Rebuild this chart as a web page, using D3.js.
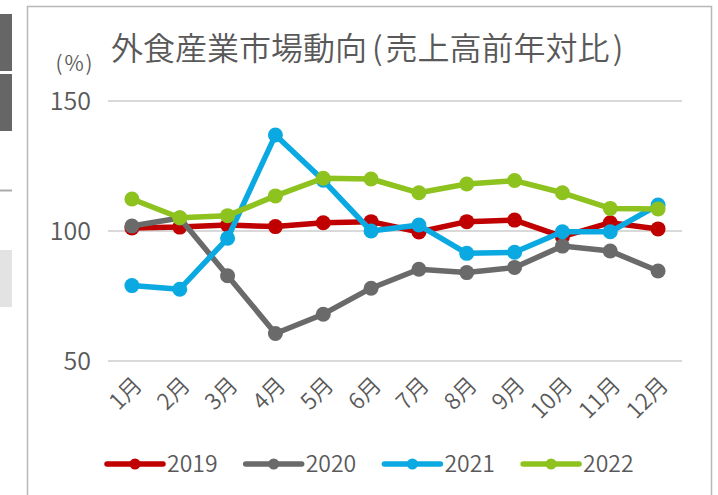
<!DOCTYPE html>
<html>
<head>
<meta charset="utf-8">
<script src="https://cdn.jsdelivr.net/npm/d3@7"></script>
<style>
  body { margin: 0; background: #fff; }
  svg text { font-family: "Noto Sans CJK JP", "Noto Sans", sans-serif; font-weight: 350; fill: #595959; }
</style>
</head>
<body>
<div id="chart"></div>
<script>
// data
var months = ["1月", "2月", "3月", "4月", "5月", "6月", "7月", "8月", "9月", "10月", "11月", "12月"];
var yTicks = [50, 100, 150];
var s2019 = [101.2, 101.5, 102.3, 101.7, 103.2, 103.6, 99.6, 103.6, 104.2, 97.8, 103.2, 100.8];
var s2020 = [101.9, 105.0, 82.8, 60.6, 68.0, 78.0, 85.3, 84.0, 86.0, 94.2, 92.3, 84.6];
var s2021 = [79.0, 77.6, 97.2, 136.9, 119.5, 100.0, 102.3, 91.4, 91.8, 99.7, 99.7, 110.0];
var s2022 = [112.3, 105.1, 105.9, 113.5, 120.3, 120.0, 114.7, 118.1, 119.4, 114.7, 108.7, 108.5];
var seriesNames = ["2019", "2020", "2021", "2022"];
var seriesColors = ["#c00000", "#6a6a6a", "#0ba9e2", "#8dc21f"];

var series = [s2019, s2020, s2021, s2022].map(function (v, i) {
  return { name: seriesNames[i], color: seriesColors[i], values: v };
});

var width = 718, height = 495;

var svg = d3.select("#chart")
  .append("svg")
  .attr("width", width)
  .attr("height", height);

// side decorations at the left edge
svg.append("rect").attr("x", 0).attr("y", 14).attr("width", 12).attr("height", 57).attr("fill", "#666");
svg.append("rect").attr("x", 0).attr("y", 74).attr("width", 12).attr("height", 57).attr("fill", "#666");
svg.append("line").attr("x1", 0).attr("x2", 12).attr("y1", 190.5).attr("y2", 190.5)
  .attr("stroke", "#aaa").attr("stroke-width", 2);
svg.append("rect").attr("x", 0).attr("y", 250).attr("width", 12).attr("height", 57).attr("fill", "#e3e3e3");

// chart frame
svg.append("rect")
  .attr("x", 27.5).attr("y", 6.5)
  .attr("width", 684).attr("height", 520)
  .attr("fill", "#fff")
  .attr("stroke", "#b8b8b8")
  .attr("stroke-width", 1.5);

var x = d3.scalePoint().domain(months).range([108, 682]).padding(0.5);
var y = d3.scaleLinear().domain([50, 150]).range([361, 101]);

// gridlines
svg.append("g")
  .selectAll("line")
  .data(yTicks)
  .enter()
  .append("line")
  .attr("x1", 108)
  .attr("x2", 682)
  .attr("y1", function (d) { return y(d); })
  .attr("y2", function (d) { return y(d); })
  .attr("stroke", "#d9d9d9")
  .attr("stroke-width", 2);

// y labels
svg.append("g")
  .selectAll("text")
  .data(yTicks)
  .enter()
  .append("text")
  .attr("x", 91)
  .attr("y", function (d) { return y(d); })
  .attr("dy", "0.35em")
  .attr("text-anchor", "end")
  .style("font-size", "25px")
  .text(function (d) { return d; });

svg.append("text")
  .attr("x", 75)
  .attr("y", 71)
  .attr("text-anchor", "middle")
  .style("font-size", "21px")
  .style("letter-spacing", "2px")
  .text("(%)");

// title (paren spacing nudged to match)
var title = svg.append("text")
  .attr("x", 111)
  .attr("y", 60)
  .style("font-size", "32px");
title.append("tspan").text("外食産業市場動向");
title.append("tspan").attr("dx", 5).text("(");
title.append("tspan").attr("dx", 3).text("売上高前年対比");
title.append("tspan").attr("dx", 3).text(")");

// x labels, rotated
svg.append("g")
  .selectAll("text")
  .data(months)
  .enter()
  .append("text")
  .attr("transform", function (d) {
    return "translate(" + (x(d) + 6) + ",381) rotate(-45)";
  })
  .attr("text-anchor", "end")
  .attr("dy", "0.35em")
  .style("font-size", "22.5px")
  .text(function (d) { return d; });

// lines and markers
var line = d3.line()
  .x(function (d, i) { return x(months[i]); })
  .y(function (d) { return y(d); });

var groups = svg.append("g")
  .selectAll("g.series")
  .data(series)
  .enter()
  .append("g")
  .attr("class", "series");

groups.append("path")
  .attr("d", function (d) { return line(d.values); })
  .attr("fill", "none")
  .attr("stroke", function (d) { return d.color; })
  .attr("stroke-width", 5.5)
  .attr("stroke-linejoin", "round");

groups.selectAll("circle")
  .data(function (d) {
    return d.values.map(function (v, i) { return { v: v, m: months[i], c: d.color }; });
  })
  .enter()
  .append("circle")
  .attr("cx", function (d) { return x(d.m); })
  .attr("cy", function (d) { return y(d.v); })
  .attr("r", 7.5)
  .attr("fill", function (d) { return d.c; });

// legend
var legend = svg.append("g")
  .selectAll("g")
  .data(series)
  .enter()
  .append("g")
  .attr("transform", function (d, i) { return "translate(" + (107 + i * 138.7) + ",464)"; });

legend.append("line")
  .attr("x1", 0).attr("x2", 56)
  .attr("stroke", function (d) { return d.color; })
  .attr("stroke-width", 5.5)
  .attr("stroke-linecap", "round");

legend.append("circle")
  .attr("cx", 28)
  .attr("r", 5.5)
  .attr("fill", function (d) { return d.color; });

legend.append("text")
  .attr("x", 60)
  .attr("dy", "0.35em")
  .style("font-size", "23px")
  .text(function (d) { return d.name; });
</script>
</body>
</html>
